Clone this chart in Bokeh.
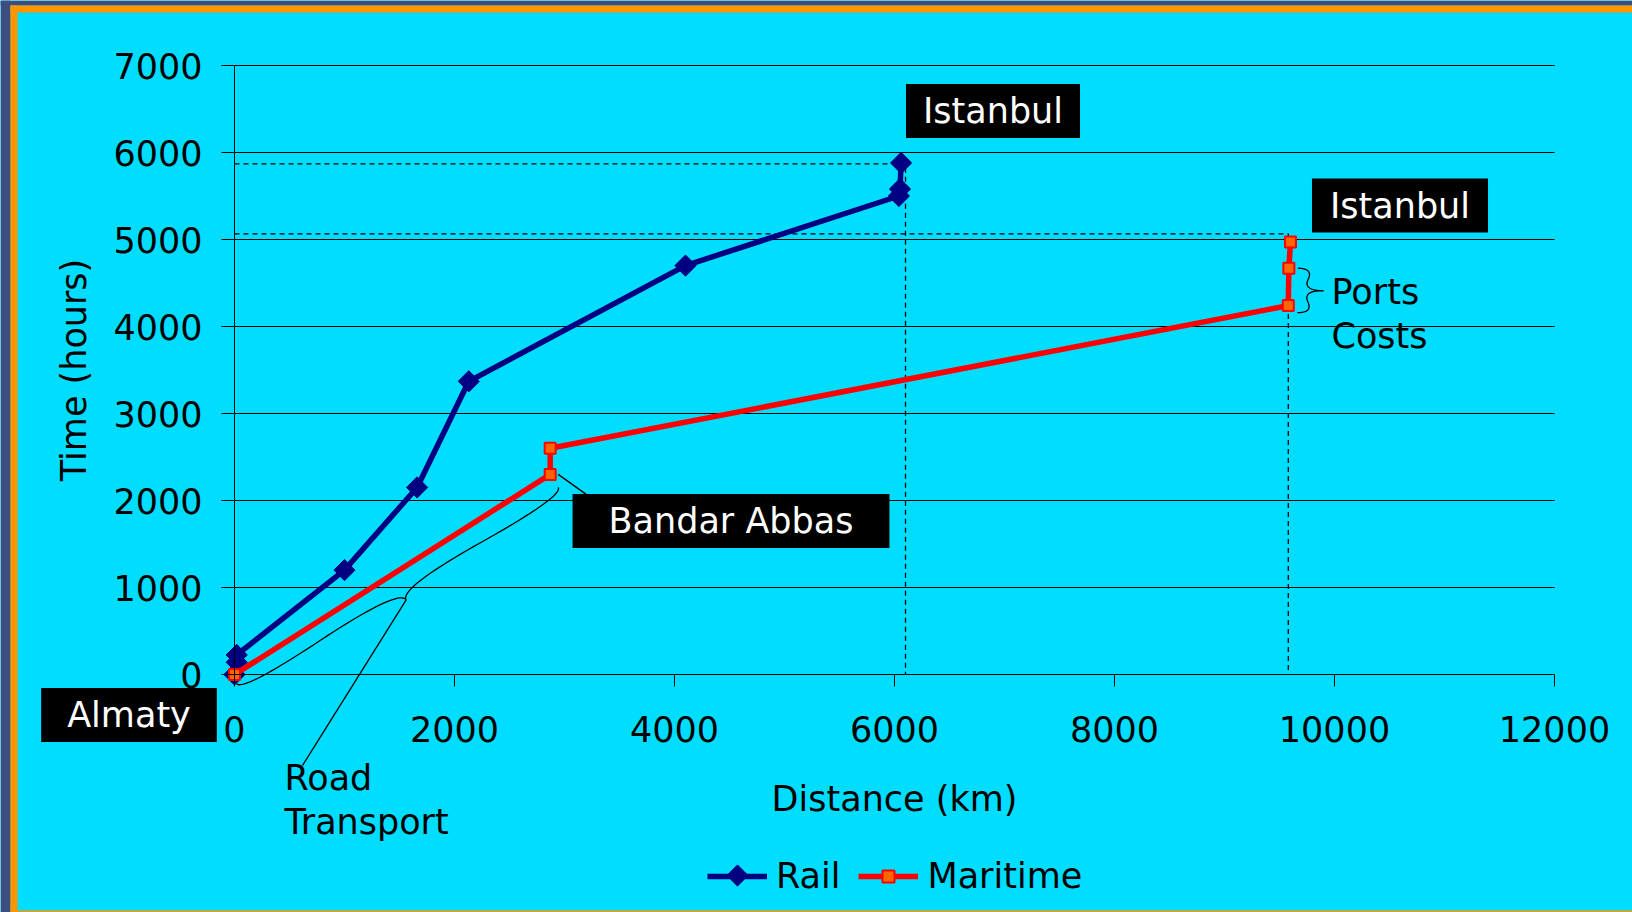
import numpy as np
from bokeh.plotting import figure
from bokeh.models import Range1d, FixedTicker, Label, Legend, LegendItem
from bokeh.embed import file_html
from bokeh.resources import INLINE

# ---------------- data ----------------
rail_distance = [0, 20, 20, 1000, 1660, 2130, 4100, 6040, 6050, 6060]
rail_time = [0, 140, 225, 1200, 2150, 3370, 4700, 5500, 5580, 5880]
maritime_distance = [0, 2870, 2870, 9580, 9585, 9600]
maritime_time = [0, 2300, 2600, 4240, 4670, 4970]
x_ticks = [0, 2000, 4000, 6000, 8000, 10000, 12000]
y_ticks = [0, 1000, 2000, 3000, 4000, 5000, 6000, 7000]
rail_guide = [6100, 5870]        # dashed guide (distance, time)
maritime_guide = [9580, 5065]    # dashed guide (distance, time)

# ---------------- style / geometry ----------------
CYAN = "#00DDFF"
NAVY = "#000080"
RED = "#FF0000"
ORANGE = "#FF6600"
FONT = "DejaVu Sans"
FS = "35px"

W, H = 1632, 912
OX, OY = 234, 674            # pixel position of the (0, 0) corner of the chart
X_MAX, Y_MAX = 12000, 7000
SX = 1320 / X_MAX            # px per km
SY = 609 / Y_MAX             # px per hour


def dx(px):
    return (px - OX) / SX


def dy(py):
    return (OY - py) / SY


p = figure(width=W, height=H, x_range=Range1d(dx(0), dx(W)), y_range=Range1d(dy(H), dy(0)),
           output_backend="svg", toolbar_location=None,
           min_border_left=0, min_border_right=0, min_border_top=0, min_border_bottom=0)
p.background_fill_color = CYAN
p.border_fill_color = CYAN
p.outline_line_color = None
p.xgrid.visible = False
p.ygrid.visible = False

# page frame (texture + orange border)
p.quad(left=[dx(0), dx(0)], right=[dx(W), dx(10)], top=[dy(0), dy(0)], bottom=[dy(5), dy(H)],
       fill_color="#3D4D7D", line_color=None)
p.quad(left=[dx(10), dx(10), dx(10)], right=[dx(W), dx(17), dx(W)],
       top=[dy(5), dy(5), dy(910)], bottom=[dy(12), dy(H), dy(H)],
       fill_color="#FF9500", line_color=None)

# axes crossing at 0
p.xaxis.fixed_location = 0
p.yaxis.fixed_location = 0
p.xaxis.bounds = (0, X_MAX)
p.yaxis.bounds = (0, Y_MAX)
p.xaxis.ticker = FixedTicker(ticks=x_ticks)
p.yaxis.ticker = FixedTicker(ticks=y_ticks)
for ax in (p.xaxis[0], p.yaxis[0]):
    ax.axis_line_color = "black"
    ax.axis_line_width = 1
    ax.major_tick_line_color = "black"
    ax.minor_tick_line_color = None
    ax.major_tick_in = 0
    ax.major_label_text_font = FONT
    ax.major_label_text_font_size = FS
    ax.major_label_text_color = "black"
    ax.axis_label_text_font = FONT
    ax.axis_label_text_font_size = FS
    ax.axis_label_text_font_style = "normal"
    ax.axis_label_text_color = "black"
p.xaxis.axis_label = "Distance (km)"
p.yaxis.axis_label = "Time (hours)"
p.xaxis.major_tick_out = 12
p.yaxis.major_tick_out = 13
p.xaxis.major_label_standoff = 29
p.yaxis.major_label_standoff = 19
p.xaxis.axis_label_standoff = 34
p.yaxis.axis_label_standoff = 16

# horizontal grid lines across the chart only
p.segment(x0=[0] * (len(y_ticks) - 1), y0=y_ticks[1:], x1=[X_MAX] * (len(y_ticks) - 1), y1=y_ticks[1:],
          line_color="black", line_width=1)

# dashed guides
dash = dict(line_color="black", line_width=1.3, line_dash="5 4")
p.line([0, rail_guide[0], rail_guide[0]], [rail_guide[1], rail_guide[1], 0], **dash)
p.line([0, maritime_guide[0], maritime_guide[0]], [maritime_guide[1], maritime_guide[1], 0], **dash)

# series
r_line = p.line(rail_distance, rail_time, line_color=NAVY, line_width=5.5)
r_mark = p.scatter(rail_distance, rail_time, marker="square", size=15, angle=np.pi / 4,
                   fill_color=NAVY, line_color=NAVY)
m_line = p.line(maritime_distance, maritime_time, line_color=RED, line_width=5.5)
m_mark = p.scatter(maritime_distance, maritime_time, marker="square", size=11,
                   fill_color=ORANGE, line_color=RED, line_width=2)


# braces (computed in pixel space, converted back to data)
def quad(p0, c, p1, n=24):
    t = np.linspace(0, 1, n)[:, None]
    return (1 - t) ** 2 * p0 + 2 * (1 - t) * t * c + t ** 2 * p1


def brace(s, e, w, side, q=0.6):
    s = np.array(s, float)
    e = np.array(e, float)
    v = e - s
    L = np.hypot(*v)
    d = v / L
    nrm = side * np.array([-d[1], d[0]])
    q1 = s + q * w * nrm
    q2 = s + 0.25 * L * d + (1 - q) * w * nrm
    tip = s + 0.5 * L * d + w * nrm
    q3 = e + q * w * nrm
    q4 = s + 0.75 * L * d + (1 - q) * w * nrm
    pts = np.vstack([quad(s, q1, q2), quad(q2, 2 * q2 - q1, tip),
                     quad(tip, 2 * q4 - q3, q4), quad(q4, q3, e)])
    return pts[:, 0] / SX, pts[:, 1] / SY, (tip[0] / SX, tip[1] / SY)


def px(x, y):
    return np.array([x * SX, y * SY])


# road transport brace along the first maritime leg
bx, by, road_tip = brace(px(maritime_distance[0], maritime_time[0]) + [2, -9],
                         px(maritime_distance[1], maritime_time[1]) + [8, -13], 17, -1)
p.line(bx, by, line_color="black", line_width=1.3)
# ports brace
bx2, by2, _ = brace(px(maritime_distance[4], maritime_time[4]) + [9, 0],
                    px(maritime_distance[3], maritime_time[3]) + [9, -7], 26, 1)
p.line(bx2, by2, line_color="black", line_width=1.3)

# leader to Bandar Abbas box
p.line([maritime_distance[1] + 8 / SX, maritime_distance[1] + 36 / SX],
       [maritime_time[1], maritime_time[1] - 20 / SY], line_color="black", line_width=1.3)

# leader from "Road" to brace tip
p.line([dx(302), road_tip[0]], [dy(765), road_tip[1]], line_color="black", line_width=1.3)


def box_label(text, cx, cy, padx, pady=7):
    return Label(x=dx(cx), y=dy(cy), text=text, text_align="center", text_baseline="middle",
                 text_color="white", text_font=FONT, text_font_size=FS,
                 background_fill_color="black", border_line_color=None,
                 padding=dict(left=padx, right=padx, top=pady, bottom=pady))


def plain_label(text, lx, cy):
    return Label(x=dx(lx), y=dy(cy), text=text, text_align="left", text_baseline="middle",
                 text_color="black", text_font=FONT, text_font_size=FS)


p.add_layout(box_label("Istanbul", 992.5, 110.5, 17))
p.add_layout(box_label("Istanbul", 1399.5, 205, 18))
p.add_layout(box_label("Bandar Abbas", 730.5, 520.5, 36))
p.add_layout(box_label("Almaty", 128.5, 714.5, 26))
p.add_layout(plain_label("Ports", 1331, 291.5))
p.add_layout(plain_label("Costs", 1331, 335.5))
p.add_layout(plain_label("Road", 284, 777))
p.add_layout(plain_label("Transport", 284, 821.5))

legend = Legend(items=[LegendItem(label="Rail", renderers=[r_line]),
                       LegendItem(label="Maritime", renderers=[m_line, m_mark])],
                orientation="horizontal", location=(707, 16),
                glyph_width=60, glyph_height=30, label_standoff=9, spacing=18,
                padding=0, margin=0, border_line_color=None, background_fill_alpha=0,
                label_text_font=FONT, label_text_font_size=FS, label_text_color="black")
p.add_layout(legend, "center")
# diamond symbol of the Rail legend entry (the legend draws markers unrotated)
p.scatter([dx(737)], [dy(875)], marker="square", size=15, angle=np.pi / 4,
          fill_color=NAVY, line_color=NAVY, level="overlay")

open("out.html", "w").write(file_html(p, INLINE))
